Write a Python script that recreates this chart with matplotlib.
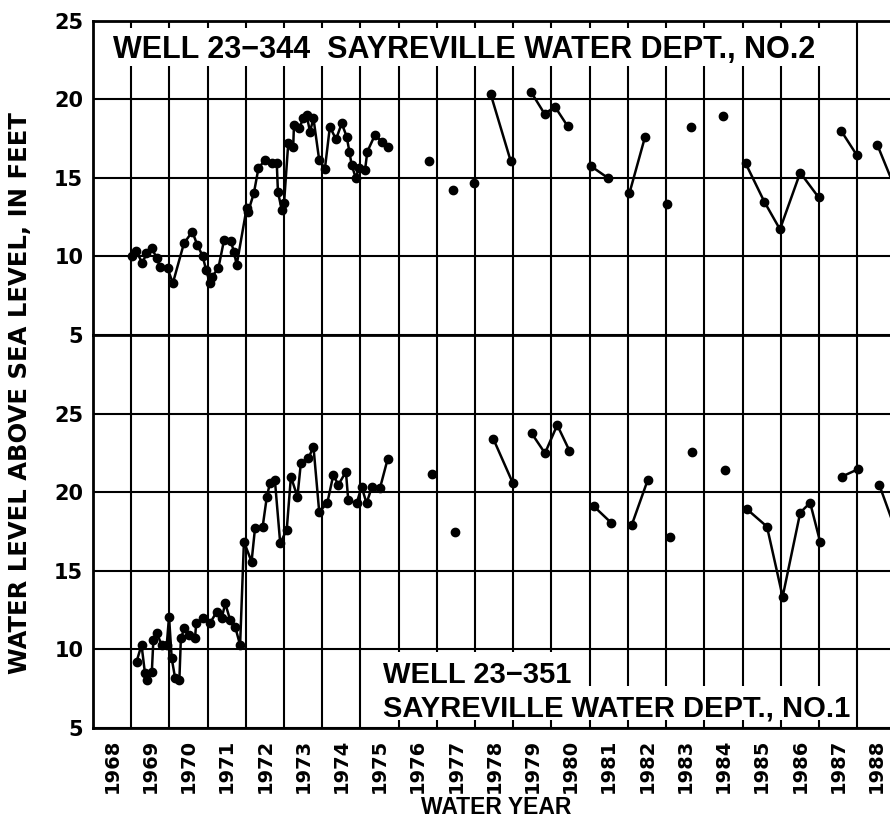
import numpy as np
import matplotlib
matplotlib.use('Agg')
import matplotlib.pyplot as plt
from matplotlib.ticker import FixedLocator
from matplotlib.patches import Rectangle

plt.rcParams['font.family'] = ['DejaVu Sans']
plt.rcParams['font.weight'] = 'bold'

nan = np.nan

# water years on the axis
years = list(range(1968, 1989))
y_ticks = [5, 10, 15, 20, 25]

# well 23-344 (upper panel), nan = break in the record
top_year = [1968.51, 1968.63, 1968.79, 1968.90, 1969.04, 1969.17, 1969.25, 1969.45, 1969.59,
            1969.88, 1970.10, 1970.23, 1970.37, 1970.46, 1970.56, 1970.61, 1970.78, 1970.93,
            1971.10, 1971.19, 1971.26, 1971.52, 1971.56, 1971.71, 1971.83, 1972.00, 1972.18,
            1972.31, 1972.34, 1972.44, 1972.50, 1972.61, 1972.74, 1972.76, 1972.90, 1973.00,
            1973.09, 1973.18, 1973.27, 1973.42, 1973.57, 1973.70, 1973.86, 1974.01, 1974.14,
            1974.21, 1974.27, 1974.38, 1974.45, 1974.62, 1974.68, 1974.88, 1975.06, 1975.23,
            nan, 1976.30, nan, 1976.91, nan, 1977.46,
            nan, 1977.91, 1978.43,
            nan, 1978.96, 1979.32, 1979.59, 1979.92,
            nan, 1980.53, 1980.99,
            nan, 1981.54, 1981.95,
            nan, 1982.52, nan, 1983.15, nan, 1984.00,
            nan, 1984.58, 1985.07, 1985.48, 1986.01, 1986.49,
            nan, 1987.08, 1987.49,
            nan, 1988.03, 1988.55]
top_level = [10.0, 10.37, 9.57, 10.2, 10.52, 9.89, 9.35, 9.25, 8.3,
             10.84, 11.58, 10.73, 10.03, 9.14, 8.3, 8.71, 9.24, 11.05,
             11.0, 10.31, 9.46, 13.07, 12.85, 14.03, 15.62, 16.15, 15.94,
             15.94, 14.13, 12.96, 13.39, 17.21, 17.0, 18.38, 18.17, 18.8,
             19.0, 17.95, 18.8, 16.15, 15.6, 18.27, 17.46, 18.48, 17.63,
             16.68, 15.83, 14.98, 15.62, 15.51, 16.68, 17.74, 17.31, 17.0,
             nan, 16.08, nan, 14.24, nan, 14.66,
             nan, 20.33, 16.10,
             nan, 20.5, 19.08, 19.54, 18.31,
             nan, 15.76, 14.98,
             nan, 14.03, 17.63,
             nan, 13.34, nan, 18.27, nan, 18.95,
             nan, 15.94, 13.49, 11.73, 15.34, 13.77,
             nan, 18.01, 16.46,
             nan, 17.1, 14.0]

# well 23-351 (lower panel)
bot_year = [1968.64, 1968.77, 1968.86, 1968.92, 1969.04, 1969.08, 1969.17, 1969.30, 1969.43,
            1969.49, 1969.56, 1969.65, 1969.76, 1969.80, 1969.89, 1970.02, 1970.17, 1970.20,
            1970.39, 1970.56, 1970.74, 1970.87, 1970.96, 1971.09, 1971.22, 1971.35, 1971.45,
            1971.65, 1971.74, 1971.94, 1972.05, 1972.13, 1972.26, 1972.40, 1972.57, 1972.68,
            1972.85, 1972.94, 1973.14, 1973.27, 1973.42, 1973.63, 1973.79, 1973.92, 1974.12,
            1974.18, 1974.40, 1974.53, 1974.66, 1974.80, 1975.01, 1975.21,
            nan, 1976.37, nan, 1976.98,
            nan, 1977.98, 1978.49,
            nan, 1978.98, 1979.33, 1979.65, 1979.97,
            nan, 1980.60, 1981.06,
            nan, 1981.60, 1982.02,
            nan, 1982.60, nan, 1983.17, nan, 1984.04,
            nan, 1984.61, 1985.14, 1985.55, 1986.01, 1986.27, 1986.53,
            nan, 1987.10, 1987.52,
            nan, 1988.08, 1988.55]
bot_level = [9.22, 10.28, 8.48, 8.05, 8.58, 10.6, 11.02, 10.28, 10.28,
             12.08, 9.43, 8.16, 8.05, 10.7, 11.34, 10.92, 10.7, 11.66,
             11.98, 11.66, 12.4, 11.98, 12.93, 11.87, 11.44, 10.28, 16.85,
             15.58, 17.7, 17.8, 19.71, 20.57, 20.78, 16.75, 17.6, 20.99,
             19.71, 21.84, 22.16, 22.9, 18.76, 19.29, 21.1, 20.46, 21.3,
             19.5, 19.29, 20.35, 19.29, 20.35, 20.25, 22.09,
             nan, 21.16, nan, 17.45,
             nan, 23.38, 20.57,
             nan, 23.75, 22.48, 24.27, 22.64,
             nan, 19.12, 18.06,
             nan, 17.91, 20.78,
             nan, 17.13, nan, 22.54, nan, 21.41,
             nan, 18.93, 17.81, 13.35, 18.7, 19.33, 16.85,
             nan, 20.99, 21.46,
             nan, 20.46, 17.3]

fig = plt.figure(figsize=(8.9, 8.36), dpi=100)
ax1 = fig.add_axes([0.1045, 0.5993, 0.8955, 0.3756])
ax2 = fig.add_axes([0.1045, 0.1292, 0.8955, 0.4701])

ax1.plot(top_year, top_level, color='black', lw=1.8, marker='o', ms=6, zorder=3)
ax2.plot(bot_year, bot_level, color='black', lw=1.8, marker='o', ms=6, zorder=3)

# white boxes behind the well names
ax1.add_patch(Rectangle((0.006, 0.857), 0.937, 0.121, transform=ax1.transAxes,
                        facecolor='white', edgecolor='none', zorder=1))
ax2.add_patch(Rectangle((0.3576, 0.1069), 0.261, 0.0865, transform=ax2.transAxes,
                        facecolor='white', edgecolor='none', zorder=1))
ax2.add_patch(Rectangle((0.3576, 0.0204), 0.596, 0.0865, transform=ax2.transAxes,
                        facecolor='white', edgecolor='none', zorder=1))

for ax, ylim in ((ax1, (5, 25)), (ax2, (5, 30))):
    ax.set_xlim(1967.5, 1988.36)
    ax.set_ylim(*ylim)
    ax.set_yticks(y_ticks)
    ax.set_xticks(years)
    ax.xaxis.set_minor_locator(FixedLocator(np.arange(1967.5, 1989, 1)))
    ax.grid(True, which='minor', axis='x', color='black', lw=1.5)
    ax.grid(True, which='major', axis='y', color='black', lw=1.5)
    ax.set_axisbelow(True)
    ax.tick_params(which='both', length=0)
    ax.tick_params(axis='y', pad=7, labelsize=15)
    ax.spines['right'].set_visible(False)
    for s in ('left', 'top', 'bottom'):
        ax.spines[s].set_linewidth(2)

ax1.tick_params(axis='x', labelbottom=False)
ax2.set_xticklabels([str(y) for y in years], rotation=90, fontsize=14)
ax2.tick_params(axis='x', pad=8)

ax1.text(0.0251, 0.8822, 'WELL 23\u2212344  SAYREVILLE WATER DEPT., NO.2', transform=ax1.transAxes,
         family='Liberation Sans', fontsize=22, ha='left', va='baseline', zorder=4)
ax2.text(0.3639, 0.1145, 'WELL 23\u2212351', transform=ax2.transAxes,
         family='Liberation Sans', fontsize=21, ha='left', va='baseline', zorder=4)
ax2.text(0.3639, 0.028, 'SAYREVILLE WATER DEPT., NO.1', transform=ax2.transAxes,
         family='Liberation Sans', fontsize=21, ha='left', va='baseline', zorder=4)

fig.text(20.5 / 890, 1 - 393 / 836, 'WATER LEVEL ABOVE SEA LEVEL, IN FEET', rotation=90,
         ha='center', va='center', fontsize=17.5)
fig.text(496 / 890, 1 - 807 / 836, 'WATER YEAR', ha='center', va='center',
         family='Liberation Sans', fontsize=16.5)

fig.savefig('out.png', dpi=100)
